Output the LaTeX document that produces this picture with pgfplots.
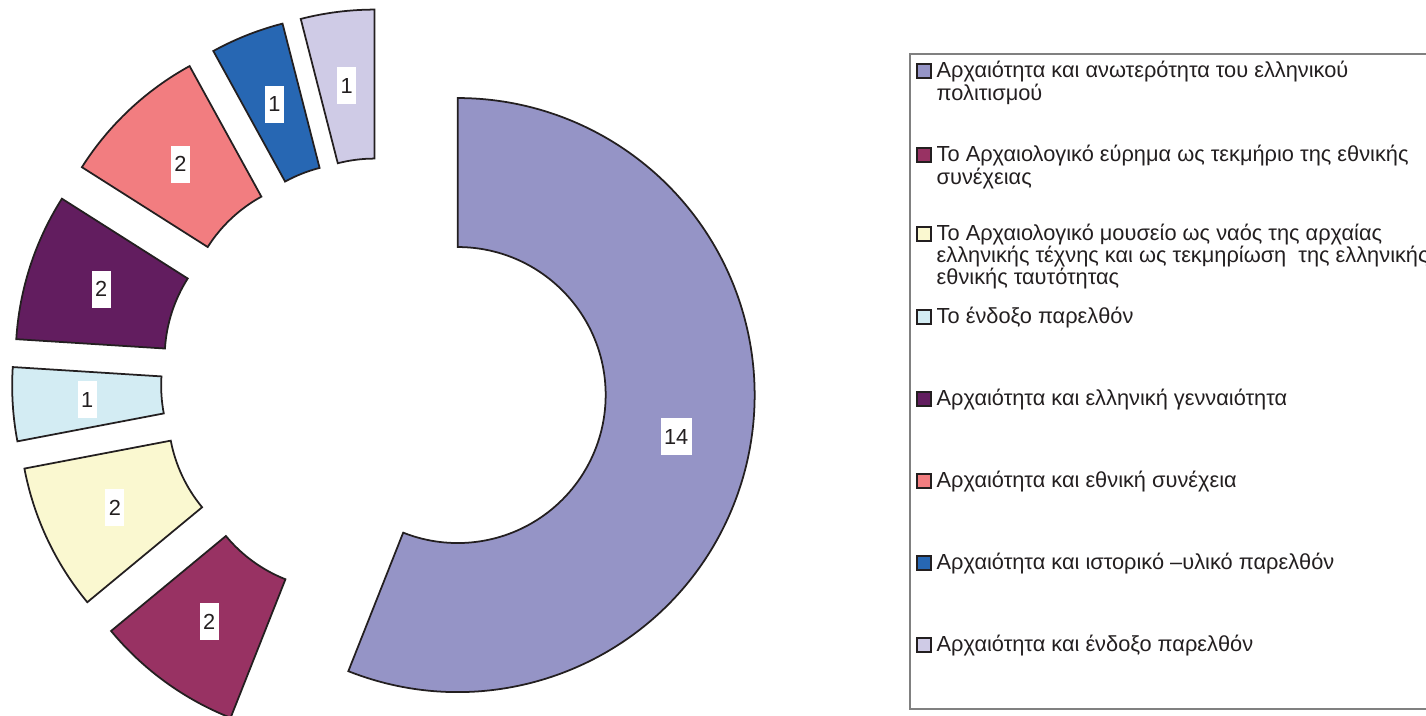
\documentclass[border=0pt]{standalone}
\usepackage{pgfplots}
\pgfplotsset{compat=1.18}
\usepackage{fontspec}
\setmainfont{Liberation Sans}
\definecolor{c1}{HTML}{9594C6}
\definecolor{c2}{HTML}{983263}
\definecolor{c3}{HTML}{FAF8D0}
\definecolor{c4}{HTML}{D3ECF3}
\definecolor{c5}{HTML}{621D5F}
\definecolor{c6}{HTML}{F27D80}
\definecolor{c7}{HTML}{2767B3}
\definecolor{c8}{HTML}{CFCBE6}
\definecolor{edge}{HTML}{231F20}
\newcommand\lbl{\fontsize{6.2pt}{7.4pt}\selectfont}
% total = 25 -> 14.4 degrees per unit
\newcommand\seg[3]{% #1 cumulative start, #2 value, #3 colour
 \pgfmathsetmacro\sa{90-14.4*(#1+#2)}%
 \pgfmathsetmacro\sb{90-14.4*(#1)}%
 \pgfmathsetmacro\sm{(\sa+\sb)/2}%
 \pgfmathsetmacro\cx{3.84+0.75*cos(\sm)}%
 \pgfmathsetmacro\cy{3.35+0.75*sin(\sm)}%
 \pgfmathsetmacro\ox{\cx+2.97*cos(\sa)}%
 \pgfmathsetmacro\oy{\cy+2.97*sin(\sa)}%
 \pgfmathsetmacro\ix{\cx+1.48*cos(\sb)}%
 \pgfmathsetmacro\iy{\cy+1.48*sin(\sb)}%
 \pgfmathsetmacro\lx{\cx+2.225*cos(\sm)}%
 \pgfmathsetmacro\ly{\cy+2.225*sin(\sm)}%
 \edef\temp{\noexpand\draw[fill=#3,draw=edge,line width=0.5pt] (axis cs:\ox,\oy) arc[start angle=\sa,end angle=\sb,radius=2.97cm] -- (axis cs:\ix,\iy) arc[start angle=\sb,end angle=\sa,radius=1.48cm] -- cycle;
 \noexpand\node[fill=white,inner xsep=0.035cm,inner ysep=0pt,minimum height=0.37cm,text=edge,font=\noexpand\lbl] at (axis cs:\lx,\ly) {#2};}%
 \temp
}
\newcommand\entry[3]{% #1 colour, #2 baseline y (cm), #3 text
 \edef\temp{\noexpand\draw[fill=#1,draw=edge,line width=0.4pt] (axis cs:9.17,#2) rectangle (axis cs:9.31,#2+0.14);}\temp
 \node[anchor=base west,inner sep=0pt,text=edge,font=\lbl] at (axis cs:9.36,#2) {#3};
}
\begin{document}
\begin{tikzpicture}
\begin{axis}[name=ax, x=1cm, y=1cm, disabledatascaling, xmin=0, xmax=14.26, ymin=0, ymax=7.16,
  hide axis, clip=false, enlargelimits=false]
\seg{0}{14}{c1}
\seg{14}{2}{c2}
\seg{16}{2}{c3}
\seg{18}{1}{c4}
\seg{19}{2}{c5}
\seg{21}{2}{c6}
\seg{23}{1}{c7}
\seg{24}{1}{c8}
\draw[draw=gray,line width=0.4pt] (axis cs:9.10,0.07) rectangle (axis cs:14.50,6.62);
\entry{c1}{6.38}{Αρχαιότητα και ανωτερότητα του ελληνικού}
\node[anchor=base west,inner sep=0pt,text=edge,font=\lbl] at (axis cs:9.36,6.15) {πολιτισμού};
\entry{c2}{5.54}{Το Αρχαιολογικό εύρημα ως τεκμήριο της εθνικής}
\node[anchor=base west,inner sep=0pt,text=edge,font=\lbl] at (axis cs:9.36,5.31) {συνέχειας};
\entry{c3}{4.75}{Το Αρχαιολογικό μουσείο ως ναός της αρχαίας}
\node[anchor=base west,inner sep=0pt,text=edge,font=\lbl] at (axis cs:9.36,4.53) {ελληνικής τέχνης και ως τεκμηρίωση\ \ της ελληνικής};
\node[anchor=base west,inner sep=0pt,text=edge,font=\lbl] at (axis cs:9.36,4.31) {εθνικής ταυτότητας};
\entry{c4}{3.92}{Το ένδοξο παρελθόν}
\entry{c5}{3.10}{Αρχαιότητα και ελληνική γενναιότητα}
\entry{c6}{2.28}{Αρχαιότητα και εθνική συνέχεια}
\entry{c7}{1.46}{Αρχαιότητα και ιστορικό –υλικό παρελθόν}
\entry{c8}{0.64}{Αρχαιότητα και ένδοξο παρελθόν}
\end{axis}
\pgfresetboundingbox
\path[use as bounding box] (ax.south west) rectangle (ax.north east);
\end{tikzpicture}
\end{document}
